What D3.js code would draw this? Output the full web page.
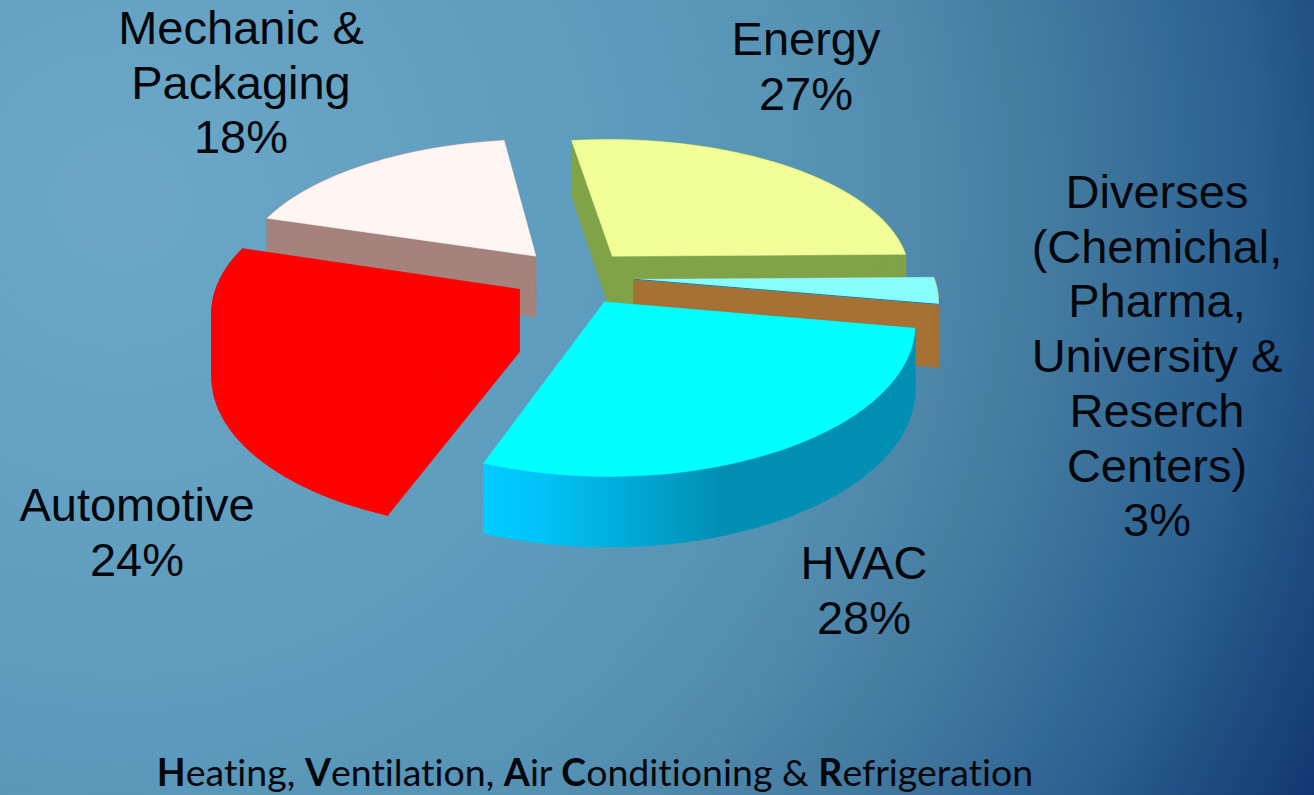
<!DOCTYPE html>
<html>
<head>
<meta charset="utf-8">
<script src="https://cdn.jsdelivr.net/npm/d3@7"></script>
<style>
    html, body { margin: 0; padding: 0; overflow: hidden; }
    text { font-family: "Liberation Sans", Arial, sans-serif; fill: #03070c; }
</style>
</head>
<body>
<div id="chart"></div>
<script>
const sectors = ["Energy", "Diverses", "HVAC", "Automotive", "Mechanic"];
const shares = [27, 3, 28, 24, 18];
const labelLines = [
    ["Energy"],
    ["Diverses", "(Chemichal,", "Pharma,", "University &", "Reserch", "Centers)"],
    ["HVAC"],
    ["Automotive"],
    ["Mechanic &", "Packaging"]
];
const topColors = ["#f2ff99", "#88ffff", "#00ffff", "#ff0000", "#fff5f3"];
const sideColors = ["#80a347", "#a57234", "url(#hvacSide)", "#ff0000", "#a5827c"];
const footerParts = [["H", 1], ["eating, ", 0], ["V", 1], ["entilation, ", 0], ["A", 1], ["ir ", 0], ["C", 1], ["onditioning & ", 0], ["R", 1], ["efrigeration", 0]];

const width = 1314, height = 795;

// where each label block sits (centre x, first baseline)
const labelPos = [[806, 55], [1157, 208], [864, 579], [137, 521], [241, 44]];
const lineGap = 54.7;

const svg = d3.select("#chart").append("svg")
    .attr("width", width)
    .attr("height", height)
    .style("display", "block");

const defs = svg.append("defs");

const bg = defs.append("radialGradient")
    .attr("id", "bg")
    .attr("gradientUnits", "userSpaceOnUse")
    .attr("cx", 120).attr("cy", 200).attr("r", 1340);
[[0, "#6ca7c7"], [0.4, "#5c9bbd"], [0.55, "#5490b2"], [0.7, "#437a9f"], [0.85, "#2a5f90"], [1, "#0f3570"]]
    .forEach(s => bg.append("stop").attr("offset", s[0]).attr("stop-color", s[1]));

const hvacSide = defs.append("linearGradient")
    .attr("id", "hvacSide")
    .attr("gradientUnits", "userSpaceOnUse")
    .attr("x1", 484).attr("x2", 915).attr("y1", 0).attr("y2", 0);
[[0, "#00ccff"], [0.12, "#00c4f8"], [0.55, "#008fb3"], [1, "#008fb3"]]
    .forEach(s => hvacSide.append("stop").attr("offset", s[0]).attr("stop-color", s[1]));

svg.append("rect").attr("width", width).attr("height", height).attr("fill", "url(#bg)");

// tilted plane: x/y in pie radius units, y grows toward the viewer
const xScale = d3.scaleLinear().domain([-1, 1]).range([574 - 300, 574 + 300]);
const yScale = d3.scaleLinear().domain([-1, 1]).range([277 - 140, 277 + 140]);
const px = 0.135, py = 0.15;
const explode = 0.2, depth = 62;

function project(p, down) {
    let sx = xScale(p[0] / (1 - px * p[1]));
    let sy = yScale(p[1] / (1 - py * p[1]));
    return [sx, sy + (down ? depth / (1 - 0.1 * p[1]) : 0)];
}

const pie = d3.pie()
    .sort(null)
    .startAngle(-8 * Math.PI / 180)
    .endAngle(352 * Math.PI / 180);

const slices = pie(shares);
const line = d3.line();

function outline(d) {
    let mid = (d.startAngle + d.endAngle) / 2;
    let ox = explode * Math.sin(mid), oy = -explode * Math.cos(mid);
    let arc = d3.range(0, 41).map(k => {
        let a = d.startAngle + (d.endAngle - d.startAngle) * k / 40;
        return [ox + Math.sin(a), oy - Math.cos(a)];
    });
    return { apex: [ox, oy], arc: arc };
}

// back slices first so the near ones cover them
const drawOrder = [4, 0, 1, 3, 2];

drawOrder.forEach(i => {
    let shape = outline(slices[i]);
    let g = svg.append("g").attr("class", "slice-" + sectors[i]);
    let first = shape.arc[0], last = shape.arc[shape.arc.length - 1];
    let flat = sideColors[i] === "url(#hvacSide)" ? "#00ccff" : sideColors[i];

    [[shape.apex, first], [shape.apex, last]].forEach(w => {
        let pts = [project(w[0]), project(w[1]), project(w[1], true), project(w[0], true)];
        g.append("path")
            .attr("d", line(pts) + "Z")
            .attr("fill", flat)
            .attr("stroke", flat)
            .attr("stroke-width", 0.5);
    });

    // rim as separate quads, one polygon folds over itself at the silhouette
    d3.pairs(shape.arc).forEach(pair => {
        let pts = [project(pair[0]), project(pair[1]), project(pair[1], true), project(pair[0], true)];
        g.append("path")
            .attr("d", line(pts) + "Z")
            .attr("fill", sideColors[i])
            .attr("stroke", sideColors[i])
            .attr("stroke-width", 1.2);
    });

    let top = [project(shape.apex)].concat(shape.arc.map(p => project(p)));
    g.append("path")
        .attr("d", line(top) + "Z")
        .attr("fill", topColors[i])
        .attr("stroke", topColors[i])
        .attr("stroke-width", 0.5);

    // thin dark edge between the small slice's top and its wall
    if (sectors[i] === "Diverses") {
        g.append("path")
            .attr("d", line([project(shape.apex), project(last)]))
            .attr("fill", "none")
            .attr("stroke", "#2f7190")
            .attr("stroke-width", 1);
    }
});

// labels
labelLines.forEach((lines, i) => {
    let t = svg.append("text")
        .attr("text-anchor", "middle")
        .attr("font-size", 47);
    lines.concat([shares[i] + "%"]).forEach((l, k) => {
        t.append("tspan")
            .attr("x", labelPos[i][0])
            .attr("y", labelPos[i][1] + k * lineGap)
            .text(l);
    });
});

const footer = svg.append("text")
    .attr("x", 595)
    .attr("y", 786)
    .attr("text-anchor", "middle")
    .attr("font-size", 37.5)
    .style("font-family", "Lato, sans-serif")
    .style("font-variant-ligatures", "none");

footer.selectAll("tspan")
    .data(footerParts)
    .enter()
    .append("tspan")
    .attr("font-weight", d => d[1] ? "bold" : "normal")
    .text(d => d[0]);
</script>
</body>
</html>
